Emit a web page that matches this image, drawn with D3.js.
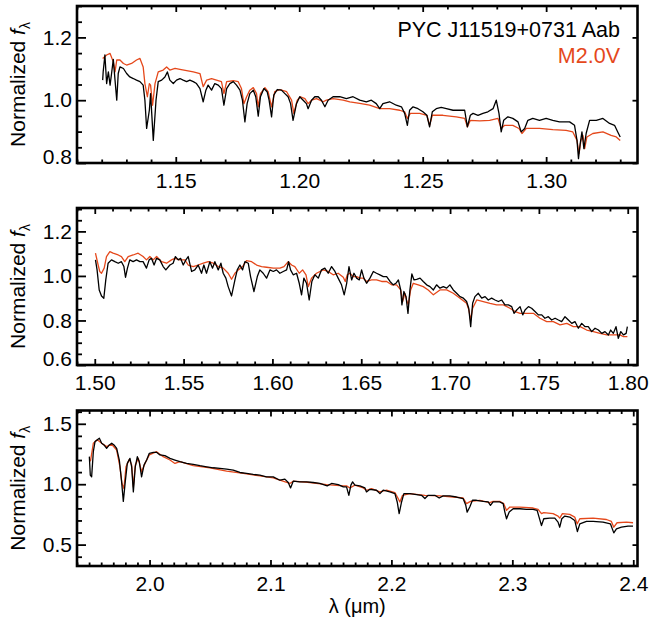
<!DOCTYPE html>
<html>
<head>
<meta charset="utf-8">
<script src="https://cdn.jsdelivr.net/npm/d3@7"></script>
<style>
  body { margin: 0; background: #fff; }
</style>
</head>
<body>
<div id="chart"></div>
<script>
// spectra: [wavelength (micron), normalized flux]
const objJ = [[1.1204,1.064],[1.1206,1.090],[1.1213,1.144],[1.1220,1.053],[1.1227,1.090],[1.1234,1.048],[1.1240,1.085],[1.1247,1.130],[1.1254,1.064],[1.1261,1.000],[1.1267,1.085],[1.1274,1.106],[1.1288,1.101],[1.1301,1.085],[1.1314,1.074],[1.1328,1.069],[1.1341,1.064],[1.1355,1.059],[1.1368,1.048],[1.1375,1.000],[1.1382,0.910],[1.1393,0.968],[1.1398,1.021],[1.1409,0.872],[1.1420,1.000],[1.1429,1.059],[1.1443,1.064],[1.1456,1.074],[1.1466,1.090],[1.1476,1.064],[1.1490,1.053],[1.1503,1.064],[1.1517,1.069],[1.1530,1.064],[1.1544,1.059],[1.1557,1.064],[1.1571,1.059],[1.1584,1.053],[1.1598,1.037],[1.1611,0.995],[1.1622,1.032],[1.1631,1.048],[1.1645,1.032],[1.1658,1.053],[1.1672,1.048],[1.1685,1.037],[1.1695,0.984],[1.1706,1.037],[1.1719,1.053],[1.1733,1.059],[1.1746,1.048],[1.1760,1.032],[1.1770,1.000],[1.1780,0.931],[1.1789,0.989],[1.1800,1.021],[1.1814,1.032],[1.1824,1.011],[1.1834,0.949],[1.1843,1.011],[1.1857,1.037],[1.1870,1.027],[1.1878,1.000],[1.1888,0.947],[1.1897,1.016],[1.1911,1.034],[1.1928,1.032],[1.1942,1.021],[1.1955,1.011],[1.1965,0.989],[1.1975,0.936],[1.1989,0.989],[1.2002,1.011],[1.2016,1.000],[1.2029,0.989],[1.2036,0.973],[1.2050,1.000],[1.2063,1.011],[1.2077,1.011],[1.2090,1.000],[1.2104,0.979],[1.2117,1.000],[1.2137,1.011],[1.2164,1.011],[1.2191,1.005],[1.2218,1.011],[1.2245,1.000],[1.2272,0.995],[1.2292,1.000],[1.2312,0.989],[1.2326,0.973],[1.2339,0.989],[1.2366,0.995],[1.2393,0.984],[1.2414,0.979],[1.2427,0.958],[1.2438,0.920],[1.2447,0.968],[1.2461,0.979],[1.2481,0.973],[1.2501,0.963],[1.2517,0.952],[1.2528,0.915],[1.2539,0.963],[1.2555,0.973],[1.2575,0.977],[1.2596,0.973],[1.2623,0.968],[1.2650,0.968],[1.2670,0.968],[1.2681,0.915],[1.2693,0.952],[1.2704,0.958],[1.2724,0.952],[1.2744,0.958],[1.2764,0.963],[1.2785,0.973],[1.2798,1.000],[1.2809,0.958],[1.2818,0.899],[1.2828,0.936],[1.2845,0.947],[1.2865,0.942],[1.2886,0.931],[1.2899,0.899],[1.2913,0.910],[1.2926,0.936],[1.2946,0.942],[1.2973,0.936],[1.3000,0.942],[1.3027,0.936],[1.3054,0.931],[1.3095,0.931],[1.3115,0.920],[1.3125,0.872],[1.3131,0.814],[1.3138,0.862],[1.3145,0.899],[1.3153,0.846],[1.3162,0.894],[1.3176,0.936],[1.3203,0.936],[1.3230,0.942],[1.3257,0.926],[1.3277,0.920],[1.3290,0.899],[1.3300,0.883]];

const tmplJ = [[1.1204,1.133],[1.1220,1.144],[1.1234,1.149],[1.1247,1.122],[1.1254,1.090],[1.1261,1.128],[1.1274,1.128],[1.1288,1.117],[1.1301,1.112],[1.1321,1.117],[1.1341,1.128],[1.1355,1.133],[1.1368,1.106],[1.1375,1.053],[1.1385,1.011],[1.1393,1.053],[1.1398,1.048],[1.1406,0.984],[1.1416,1.053],[1.1429,1.090],[1.1449,1.096],[1.1463,1.106],[1.1476,1.096],[1.1497,1.101],[1.1517,1.098],[1.1544,1.094],[1.1571,1.090],[1.1598,1.085],[1.1611,1.043],[1.1625,1.064],[1.1645,1.069],[1.1665,1.064],[1.1685,1.059],[1.1695,1.021],[1.1706,1.059],[1.1733,1.062],[1.1753,1.059],[1.1766,1.037],[1.1776,0.989],[1.1787,1.011],[1.1800,1.032],[1.1814,1.040],[1.1827,1.021],[1.1834,0.979],[1.1843,1.021],[1.1861,1.040],[1.1874,1.027],[1.1888,0.979],[1.1901,1.027],[1.1922,1.034],[1.1949,1.027],[1.1969,1.000],[1.1978,0.958],[1.1992,1.000],[1.2005,1.011],[1.2023,1.005],[1.2036,0.989],[1.2050,1.000],[1.2070,1.005],[1.2097,0.995],[1.2110,1.000],[1.2137,1.005],[1.2178,1.000],[1.2205,0.995],[1.2245,0.990],[1.2285,0.984],[1.2326,0.973],[1.2366,0.973],[1.2407,0.968],[1.2427,0.963],[1.2438,0.942],[1.2450,0.958],[1.2488,0.958],[1.2517,0.952],[1.2528,0.920],[1.2539,0.952],[1.2582,0.952],[1.2636,0.947],[1.2670,0.942],[1.2681,0.915],[1.2693,0.936],[1.2731,0.934],[1.2771,0.936],[1.2805,0.942],[1.2818,0.910],[1.2832,0.920],[1.2865,0.920],[1.2890,0.910],[1.2902,0.894],[1.2919,0.910],[1.2973,0.910],[1.3027,0.906],[1.3081,0.904],[1.3108,0.899],[1.3125,0.872],[1.3133,0.830],[1.3141,0.872],[1.3149,0.888],[1.3156,0.846],[1.3165,0.883],[1.3189,0.894],[1.3230,0.899],[1.3263,0.888],[1.3284,0.883],[1.3300,0.872]];

const objH = [[1.5004,1.072],[1.5013,1.027],[1.5025,0.937],[1.5038,0.910],[1.5051,0.900],[1.5062,0.982],[1.5075,1.057],[1.5094,1.072],[1.5113,1.064],[1.5132,1.057],[1.5150,1.064],[1.5164,1.042],[1.5173,0.994],[1.5184,1.035],[1.5197,1.072],[1.5216,1.064],[1.5235,1.072],[1.5254,1.064],[1.5272,1.064],[1.5291,1.035],[1.5306,1.072],[1.5319,1.079],[1.5334,1.049],[1.5348,1.079],[1.5366,1.072],[1.5385,1.042],[1.5400,1.027],[1.5423,1.049],[1.5441,1.057],[1.5454,1.087],[1.5470,1.072],[1.5483,1.079],[1.5498,1.049],[1.5513,1.072],[1.5526,1.087],[1.5545,1.020],[1.5563,1.027],[1.5582,1.049],[1.5601,1.012],[1.5614,1.049],[1.5629,1.012],[1.5648,1.064],[1.5663,1.035],[1.5676,1.064],[1.5695,1.027],[1.5710,1.057],[1.5723,1.012],[1.5738,0.990],[1.5751,0.952],[1.5770,0.910],[1.5789,0.982],[1.5802,1.027],[1.5817,1.049],[1.5832,1.027],[1.5845,1.064],[1.5864,1.057],[1.5877,0.997],[1.5896,0.930],[1.5915,0.997],[1.5929,1.027],[1.5948,1.012],[1.5967,0.990],[1.5986,1.027],[1.6005,1.020],[1.6023,1.027],[1.6042,1.012],[1.6061,1.020],[1.6080,1.027],[1.6091,1.064],[1.6102,1.027],[1.6117,1.005],[1.6136,1.012],[1.6151,0.967],[1.6164,0.915],[1.6177,0.990],[1.6192,0.967],[1.6207,0.892],[1.6222,0.975],[1.6239,1.005],[1.6258,0.990],[1.6276,1.027],[1.6295,1.035],[1.6314,1.012],[1.6333,1.042],[1.6352,1.020],[1.6370,0.990],[1.6389,0.960],[1.6404,0.915],[1.6418,0.967],[1.6431,1.042],[1.6446,0.982],[1.6459,1.012],[1.6474,0.990],[1.6489,0.982],[1.6502,1.027],[1.6515,0.990],[1.6530,0.967],[1.6549,0.990],[1.6568,1.020],[1.6586,1.012],[1.6605,1.005],[1.6624,0.997],[1.6643,0.997],[1.6662,0.975],[1.6680,0.960],[1.6695,0.967],[1.6709,0.982],[1.6722,0.937],[1.6729,0.870],[1.6740,0.930],[1.6752,0.907],[1.6763,0.832],[1.6774,0.937],[1.6785,1.009],[1.6797,0.982],[1.6812,0.985],[1.6831,0.990],[1.6849,0.975],[1.6868,0.960],[1.6887,0.952],[1.6906,0.937],[1.6924,0.960],[1.6943,0.945],[1.6962,0.952],[1.6981,0.945],[1.6999,0.960],[1.7018,0.937],[1.7037,0.922],[1.7056,0.907],[1.7075,0.900],[1.7093,0.885],[1.7105,0.855],[1.7116,0.772],[1.7127,0.877],[1.7140,0.907],[1.7159,0.922],[1.7178,0.900],[1.7197,0.907],[1.7215,0.892],[1.7234,0.900],[1.7253,0.892],[1.7272,0.885],[1.7290,0.892],[1.7309,0.870],[1.7328,0.870],[1.7347,0.862],[1.7360,0.832],[1.7375,0.847],[1.7394,0.862],[1.7409,0.825],[1.7422,0.847],[1.7441,0.862],[1.7459,0.855],[1.7478,0.840],[1.7497,0.825],[1.7516,0.825],[1.7534,0.810],[1.7553,0.817],[1.7572,0.802],[1.7591,0.810],[1.7610,0.802],[1.7628,0.795],[1.7647,0.817],[1.7666,0.802],[1.7685,0.787],[1.7703,0.795],[1.7722,0.765],[1.7741,0.787],[1.7760,0.772],[1.7778,0.772],[1.7797,0.750],[1.7816,0.765],[1.7835,0.757],[1.7854,0.742],[1.7872,0.750],[1.7891,0.735],[1.7904,0.757],[1.7919,0.742],[1.7934,0.772],[1.7947,0.720],[1.7961,0.750],[1.7976,0.735],[1.7991,0.742],[1.7998,0.772]];

const tmplH = [[1.5004,1.102],[1.5019,1.049],[1.5028,1.020],[1.5038,1.012],[1.5053,1.035],[1.5066,1.087],[1.5085,1.109],[1.5103,1.102],[1.5132,1.094],[1.5150,1.087],[1.5169,1.064],[1.5188,1.087],[1.5216,1.094],[1.5244,1.102],[1.5272,1.087],[1.5291,1.072],[1.5310,1.087],[1.5329,1.072],[1.5348,1.087],[1.5376,1.064],[1.5404,1.057],[1.5432,1.072],[1.5451,1.079],[1.5479,1.072],[1.5507,1.072],[1.5526,1.049],[1.5554,1.042],[1.5582,1.049],[1.5611,1.057],[1.5639,1.064],[1.5667,1.057],[1.5695,1.042],[1.5723,1.035],[1.5751,1.012],[1.5770,0.985],[1.5789,1.012],[1.5808,1.027],[1.5832,1.042],[1.5854,1.069],[1.5883,1.064],[1.5911,1.049],[1.5939,1.042],[1.5967,1.039],[1.6005,1.035],[1.6042,1.035],[1.6065,1.042],[1.6089,1.064],[1.6108,1.049],[1.6126,1.042],[1.6151,1.012],[1.6170,1.027],[1.6189,1.005],[1.6202,0.952],[1.6220,0.990],[1.6248,1.012],[1.6286,1.027],[1.6314,1.020],[1.6342,1.005],[1.6370,1.012],[1.6399,0.994],[1.6410,0.975],[1.6421,1.005],[1.6436,1.012],[1.6455,0.997],[1.6474,0.997],[1.6493,0.990],[1.6511,0.990],[1.6530,0.975],[1.6558,0.982],[1.6586,0.982],[1.6615,0.975],[1.6643,0.975],[1.6671,0.960],[1.6699,0.960],[1.6722,0.937],[1.6733,0.885],[1.6746,0.922],[1.6755,0.892],[1.6765,0.870],[1.6778,0.937],[1.6793,0.967],[1.6821,0.960],[1.6849,0.952],[1.6877,0.937],[1.6906,0.915],[1.6943,0.937],[1.6981,0.937],[1.7018,0.922],[1.7056,0.900],[1.7093,0.877],[1.7106,0.847],[1.7116,0.802],[1.7127,0.855],[1.7150,0.892],[1.7187,0.885],[1.7225,0.877],[1.7262,0.870],[1.7300,0.870],[1.7337,0.855],[1.7366,0.840],[1.7394,0.832],[1.7431,0.832],[1.7469,0.832],[1.7506,0.810],[1.7544,0.795],[1.7581,0.795],[1.7619,0.780],[1.7657,0.787],[1.7694,0.772],[1.7732,0.772],[1.7769,0.757],[1.7807,0.750],[1.7844,0.742],[1.7882,0.735],[1.7919,0.735],[1.7957,0.735],[1.7976,0.727],[1.7998,0.727]];

const objK = [[1.9502,1.228],[1.9510,1.075],[1.9521,1.061],[1.9535,1.269],[1.9549,1.353],[1.9568,1.367],[1.9585,1.381],[1.9604,1.339],[1.9623,1.325],[1.9645,1.297],[1.9667,1.325],[1.9687,1.339],[1.9706,1.325],[1.9728,1.297],[1.9750,1.200],[1.9769,1.019],[1.9783,0.858],[1.9799,1.019],[1.9816,1.172],[1.9838,1.214],[1.9852,1.144],[1.9866,0.936],[1.9882,1.144],[1.9899,1.228],[1.9915,1.186],[1.9934,1.061],[1.9954,1.158],[1.9976,1.200],[1.9998,1.256],[2.0031,1.264],[2.0058,1.264],[2.0086,1.242],[2.0127,1.236],[2.0169,1.214],[2.0210,1.200],[2.0251,1.186],[2.0306,1.172],[2.0361,1.164],[2.0417,1.153],[2.0472,1.144],[2.0527,1.136],[2.0582,1.131],[2.0637,1.125],[2.0692,1.117],[2.0747,1.097],[2.0802,1.089],[2.0857,1.081],[2.0912,1.075],[2.0967,1.061],[2.1023,1.061],[2.1078,1.033],[2.1119,1.042],[2.1147,1.014],[2.1166,0.969],[2.1188,1.025],[2.1243,1.019],[2.1298,1.019],[2.1353,1.014],[2.1408,1.006],[2.1450,0.992],[2.1469,0.986],[2.1505,1.006],[2.1560,0.997],[2.1602,0.978],[2.1629,0.978],[2.1648,0.908],[2.1665,0.992],[2.1679,1.019],[2.1698,0.992],[2.1739,0.986],[2.1781,0.969],[2.1794,0.936],[2.1822,0.958],[2.1877,0.950],[2.1905,0.922],[2.1932,0.950],[2.1987,0.936],[2.2029,0.922],[2.2048,0.853],[2.2064,0.756],[2.2084,0.853],[2.2103,0.922],[2.2153,0.922],[2.2208,0.914],[2.2249,0.908],[2.2277,0.881],[2.2304,0.908],[2.2359,0.908],[2.2395,0.886],[2.2428,0.903],[2.2483,0.903],[2.2538,0.894],[2.2593,0.881],[2.2615,0.825],[2.2626,0.769],[2.2648,0.811],[2.2670,0.867],[2.2704,0.867],[2.2759,0.858],[2.2800,0.853],[2.2819,0.825],[2.2841,0.853],[2.2896,0.853],[2.2924,0.839],[2.2938,0.769],[2.2952,0.714],[2.2974,0.769],[2.3007,0.797],[2.3062,0.797],[2.3117,0.792],[2.3172,0.792],[2.3205,0.783],[2.3221,0.728],[2.3241,0.658],[2.3260,0.714],[2.3310,0.719],[2.3351,0.719],[2.3378,0.686],[2.3392,0.644],[2.3409,0.714],[2.3434,0.736],[2.3475,0.728],[2.3516,0.700],[2.3538,0.608],[2.3558,0.672],[2.3613,0.692],[2.3668,0.692],[2.3750,0.686],[2.3811,0.672],[2.3839,0.597],[2.3861,0.631],[2.3902,0.644],[2.3957,0.653],[2.3998,0.653]];

const tmplK = [[1.9502,1.186],[1.9513,1.200],[1.9535,1.339],[1.9568,1.367],[1.9604,1.339],[1.9645,1.311],[1.9687,1.331],[1.9728,1.283],[1.9755,1.144],[1.9772,1.006],[1.9788,0.964],[1.9805,1.144],[1.9833,1.206],[1.9852,1.158],[1.9866,0.978],[1.9882,1.158],[1.9907,1.214],[1.9934,1.103],[1.9962,1.172],[1.9998,1.242],[2.0058,1.269],[2.0113,1.228],[2.0169,1.200],[2.0210,1.172],[2.0251,1.186],[2.0361,1.153],[2.0499,1.136],[2.0637,1.108],[2.0775,1.089],[2.0912,1.069],[2.1023,1.053],[2.1078,1.033],[2.1160,1.006],[2.1188,1.025],[2.1326,1.014],[2.1463,0.997],[2.1601,0.986],[2.1629,0.986],[2.1657,0.969],[2.1698,0.992],[2.1767,0.969],[2.1794,0.950],[2.1836,0.964],[2.1905,0.936],[2.1960,0.950],[2.2029,0.931],[2.2056,0.881],[2.2070,0.853],[2.2092,0.908],[2.2153,0.922],[2.2277,0.908],[2.2401,0.903],[2.2511,0.894],[2.2593,0.886],[2.2621,0.839],[2.2654,0.858],[2.2731,0.867],[2.2814,0.847],[2.2841,0.858],[2.2896,0.858],[2.2929,0.839],[2.2952,0.783],[2.2979,0.811],[2.3062,0.811],[2.3172,0.803],[2.3213,0.792],[2.3241,0.756],[2.3260,0.764],[2.3337,0.756],[2.3378,0.736],[2.3392,0.719],[2.3414,0.756],[2.3475,0.750],[2.3516,0.728],[2.3536,0.672],[2.3558,0.714],[2.3668,0.719],[2.3778,0.708],[2.3819,0.692],[2.3839,0.644],[2.3866,0.681],[2.3943,0.686],[2.3998,0.681]];

// axis ranges and tick values
const xRangeJ = [1.11, 1.337], yRangeJ = [0.8, 1.3];
const xRangeH = [1.49, 1.8055], yRangeH = [0.6, 1.305];
const xRangeK = [1.94, 2.4035], yRangeK = [0.323, 1.61];
const xTicksJ = [1.15, 1.20, 1.25, 1.30], yTicksJ = [0.8, 1.0, 1.2];
const xTicksH = [1.50, 1.55, 1.60, 1.65, 1.70, 1.75, 1.80], yTicksH = [0.6, 0.8, 1.0, 1.2];
const xTicksK = [2.0, 2.1, 2.2, 2.3, 2.4], yTicksK = [0.5, 1.0, 1.5];

const objName = "PYC J11519+0731 Aab";
const tmplName = "M2.0V";

const W = 649, H = 622;
const left = 77, right = 637.5;
const orange = "#e5481b";
const font = "'Liberation Sans', Arial, Helvetica, sans-serif";

const svg = d3.select("#chart")
  .append("svg")
  .attr("width", W)
  .attr("height", H)
  .style("font-family", font);

const panels = [
  {top: 6, bottom: 163, xr: xRangeJ, yr: yRangeJ, xt: xTicksJ, yt: yTicksJ, xStep: 0.01, yStep: 0.05, xf: d3.format(".2f"), obj: objJ, tmpl: tmplJ},
  {top: 208, bottom: 365, xr: xRangeH, yr: yRangeH, xt: xTicksH, yt: yTicksH, xStep: 0.01, yStep: 0.05, xf: d3.format(".2f"), obj: objH, tmpl: tmplH},
  {top: 410.5, bottom: 566, xr: xRangeK, yr: yRangeK, xt: xTicksK, yt: yTicksK, xStep: 0.01, yStep: 0.1, xf: d3.format(".1f"), obj: objK, tmpl: tmplK}
];

function minors(dom, step, majors) {
  const a = Math.ceil(dom[0] / step - 1e-6), b = Math.floor(dom[1] / step + 1e-6);
  return d3.range(a, b + 1).map(i => +(i * step).toFixed(4))
    .filter(v => !majors.some(m => Math.abs(m - v) < 1e-6));
}

panels.forEach(p => {
  const x = d3.scaleLinear().domain(p.xr).range([left, right]);
  const y = d3.scaleLinear().domain(p.yr).range([p.bottom, p.top]);

  const g = svg.append("g");

  // clip the spectra to the frame
  const cid = "clip" + p.top;
  g.append("clipPath").attr("id", cid)
    .append("rect").attr("x", left).attr("y", p.top)
    .attr("width", right - left).attr("height", p.bottom - p.top);

  const line = d3.line().x(d => x(d[0])).y(d => y(d[1]));

  g.append("path").datum(p.tmpl)
    .attr("clip-path", `url(#${cid})`)
    .attr("fill", "none").attr("stroke", orange).attr("stroke-width", 1.3)
    .attr("stroke-linejoin", "round")
    .attr("d", line);
  g.append("path").datum(p.obj)
    .attr("clip-path", `url(#${cid})`)
    .attr("fill", "none").attr("stroke", "#000").attr("stroke-width", 1.3)
    .attr("stroke-linejoin", "round")
    .attr("d", line);

  // bottom axis with labels
  const bx = g.append("g").attr("transform", `translate(0,${p.bottom})`)
    .call(d3.axisBottom(x).tickValues(p.xt).tickFormat(p.xf).tickSize(-6).tickPadding(10));
  bx.append("g")
    .call(d3.axisBottom(x).tickValues(minors(p.xr, p.xStep, p.xt)).tickFormat("").tickSize(-3.5));
  // top axis mirrored
  const tx = g.append("g").attr("transform", `translate(0,${p.top})`)
    .call(d3.axisTop(x).tickValues(p.xt).tickFormat("").tickSize(-6));
  tx.append("g")
    .call(d3.axisTop(x).tickValues(minors(p.xr, p.xStep, p.xt)).tickFormat("").tickSize(-3.5));
  // left axis
  const ly = g.append("g").attr("transform", `translate(${left},0)`)
    .call(d3.axisLeft(y).tickValues(p.yt).tickFormat(d3.format(".1f")).tickSize(-9).tickPadding(5));
  ly.append("g")
    .call(d3.axisLeft(y).tickValues(minors(p.yr, p.yStep, p.yt)).tickFormat("").tickSize(-5));
  // right axis, major ticks only
  g.append("g").attr("transform", `translate(${right},0)`)
    .call(d3.axisRight(y).tickValues(p.yt).tickFormat("").tickSize(-5));

  // lowest label sits a bit above the frame corner
  ly.selectAll(".tick text").attr("transform", d => {
    const over = y(d) - (p.bottom - 6.5);
    return over > 0 ? `translate(0,${-over})` : null;
  });

  g.selectAll(".domain").remove();
  g.selectAll(".tick line").attr("stroke", "#000").attr("stroke-width", 1.8);
  g.selectAll(".tick text").attr("fill", "#000").style("font-size", "21px").style("font-family", font);

  g.append("rect")
    .attr("x", left).attr("y", p.top)
    .attr("width", right - left).attr("height", p.bottom - p.top)
    .attr("fill", "none").attr("stroke", "#000").attr("stroke-width", 2.6);

  // y title
  const yt = g.append("text")
    .attr("transform", `translate(25,${(p.top + p.bottom) / 2}) rotate(-90)`)
    .attr("text-anchor", "middle")
    .style("font-size", "21px");
  yt.append("tspan").text("Normalized ");
  yt.append("tspan").style("font-style", "italic").text("f");
  yt.append("tspan").attr("dy", 5).style("font-size", "14px").text("λ");
});

// legend
svg.append("text").attr("x", 620).attr("y", 37)
  .attr("text-anchor", "end").style("font-size", "21.5px").text(objName);
svg.append("text").attr("x", 620).attr("y", 63)
  .attr("text-anchor", "end").attr("fill", orange).style("font-size", "21.5px").text(tmplName);

// x title
svg.append("text").attr("x", (left + right) / 2).attr("y", 613)
  .attr("text-anchor", "middle").style("font-size", "20px").text("λ (μm)");
</script>
</body>
</html>
